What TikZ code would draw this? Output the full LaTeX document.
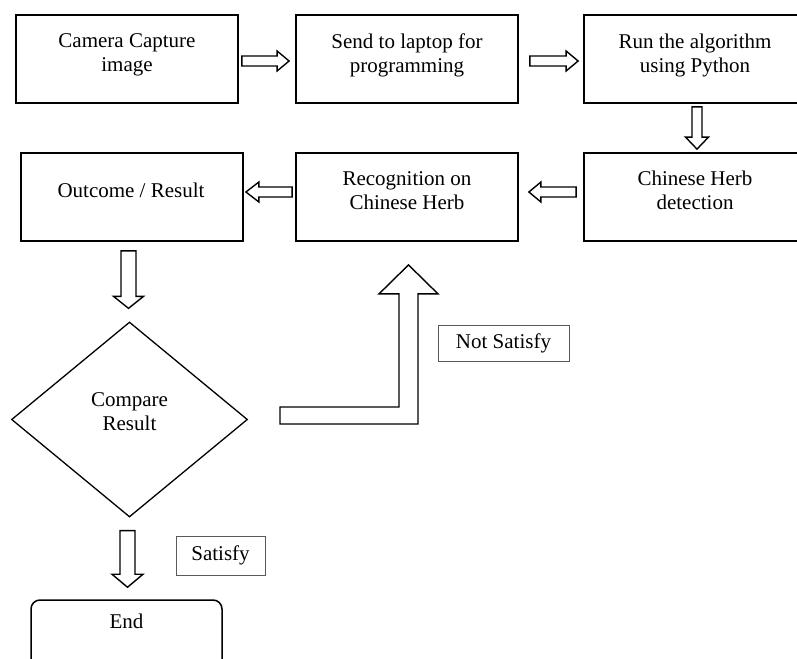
\documentclass[tikz,border=0pt]{standalone}
\usepackage{fontspec}
\setmainfont{Liberation Serif}
\usetikzlibrary{calc,shapes.geometric}
\tikzset{
  procbox/.style={draw, line width=1.8pt, minimum width=222pt, minimum height=88pt, inner sep=0pt, fill=white},
  txt/.style={font=\fontsize{21}{24}\selectfont, align=center, inner sep=0pt},
  tagbox/.style={draw=black!65, line width=0.9pt, font=\fontsize{21}{24}\selectfont, inner sep=0pt},
  decbox/.style={draw, diamond, line width=1.3pt, minimum width=236pt, minimum height=195pt, inner sep=0pt},
  termbox/.style={draw, line width=1.5pt, rounded corners=9pt, minimum width=191pt, minimum height=120pt, inner sep=0pt},
  barrow/.style n args={3}{draw, line width=1.4pt, line join=miter, fill=white, to path={
     ($(\tikztotarget)!#3!(\tikztostart)$) coordinate (hb)
     ($(\tikztostart)!#1!90:(\tikztotarget)$) -- ($(hb)!#1!90:(\tikztotarget)$)
     -- ($(hb)!#2!90:(\tikztotarget)$) -- (\tikztotarget)
     -- ($(hb)!#2!-90:(\tikztotarget)$) -- ($(hb)!#1!-90:(\tikztotarget)$)
     -- ($(\tikztostart)!#1!-90:(\tikztotarget)$) -- cycle}},
  bentarrow/.style={draw, line width=1.4pt, line join=miter, fill=white},
}
\begin{document}
\begin{tikzpicture}[x=1pt,y=-1pt]
\useasboundingbox (0,0) rectangle (797,658);
% boxes
\node[procbox] (b1) at (127,59) {};
\node[procbox] (b2) at (407,59) {};
\node[procbox] (b3) at (695,59) {};
\node[procbox] (b4) at (132,197) {};
\node[procbox] (b5) at (407,197) {};
\node[procbox] (b6) at (695,197) {};
\node[txt] (t1) at (127,55.2) {Camera Capture\\image};
\node[txt] (t2) at (407,55) {Send to laptop for\\programming};
\node[txt] (t3) at (695,55) {Run the algorithm\\using Python};
\node[txt, anchor=base] (t4) at (131,197) {Outcome / Result};
\node[txt] (t5) at (407,190.3) {Recognition on\\Chinese Herb};
\node[txt] (t6) at (695,190.3) {Chinese Herb\\detection};
% decision
\node[decbox] (dia) at (129.5,419.5) {};
\node[txt] (t7) at (129.5,412) {Compare\\Result};
% end
\node[termbox] (endb) at (126.5,660) {};
\node[txt, anchor=base] (t8) at (126.5,628) {End};
% tags
\node[tagbox, minimum width=89pt, minimum height=39pt] (sat) at (220.5,555.5) {Satisfy};
\node[tagbox, minimum width=131pt, minimum height=36pt] (nsat) at (503.5,343) {Not Satisfy};
% block arrows
\coordinate (a1s) at ($(b1.east)+(3,2)$);
\coordinate (a1e) at ($(b2.west)+(-6,2)$);
\draw[barrow={5pt}{10pt}{12pt}] (a1s) to (a1e);
\coordinate (a2s) at ($(b2.east)+(11,2)$);
\coordinate (a2e) at ($(b3.west)+(-5,2)$);
\draw[barrow={5pt}{10pt}{12pt}] (a2s) to (a2e);
\coordinate (a3s) at ($(b3.south)+(2,3)$);
\coordinate (a3e) at ($(b6.north)+(2,-3)$);
\draw[barrow={5pt}{11.5pt}{12pt}] (a3s) to (a3e);
\coordinate (a4s) at ($(b6.west)+(-7,-5)$);
\coordinate (a4e) at ($(b5.east)+(10,-5)$);
\draw[barrow={5pt}{10pt}{12pt}] (a4s) to (a4e);
\coordinate (a5s) at ($(b5.west)+(-3,-5)$);
\coordinate (a5e) at ($(b4.east)+(2,-5)$);
\draw[barrow={5pt}{10pt}{13pt}] (a5s) to (a5e);
\coordinate (a6s) at ($(b4.south)+(-3.5,9)$);
\coordinate (a6e) at ($(dia.north)+(-1,-13)$);
\draw[barrow={7.5pt}{15pt}{12pt}] (a6s) to (a6e);
\coordinate (a7s) at ($(dia.south)+(-2,13)$);
\coordinate (a7e) at ($(endb.north)+(1,-12)$);
\draw[barrow={7.5pt}{15.5pt}{13pt}] (a7s) to (a7e);
% bent arrow (Not Satisfy)
\coordinate (bc) at (b5.south |- dia.east);
\draw[bentarrow] ($(bc)+(-127,-12.5)$) -- ($(bc)+(-8,-12.5)$)
  -- ($(b5.south)+(-8,52)$) -- ($(b5.south)+(-28,52)$)
  -- ($(b5.south)+(1.5,23)$) -- ($(b5.south)+(31,52)$)
  -- ($(b5.south)+(11,52)$) -- ($(bc)+(11,4.5)$)
  -- ($(bc)+(-127,4.5)$) -- cycle;
\end{tikzpicture}
\end{document}
